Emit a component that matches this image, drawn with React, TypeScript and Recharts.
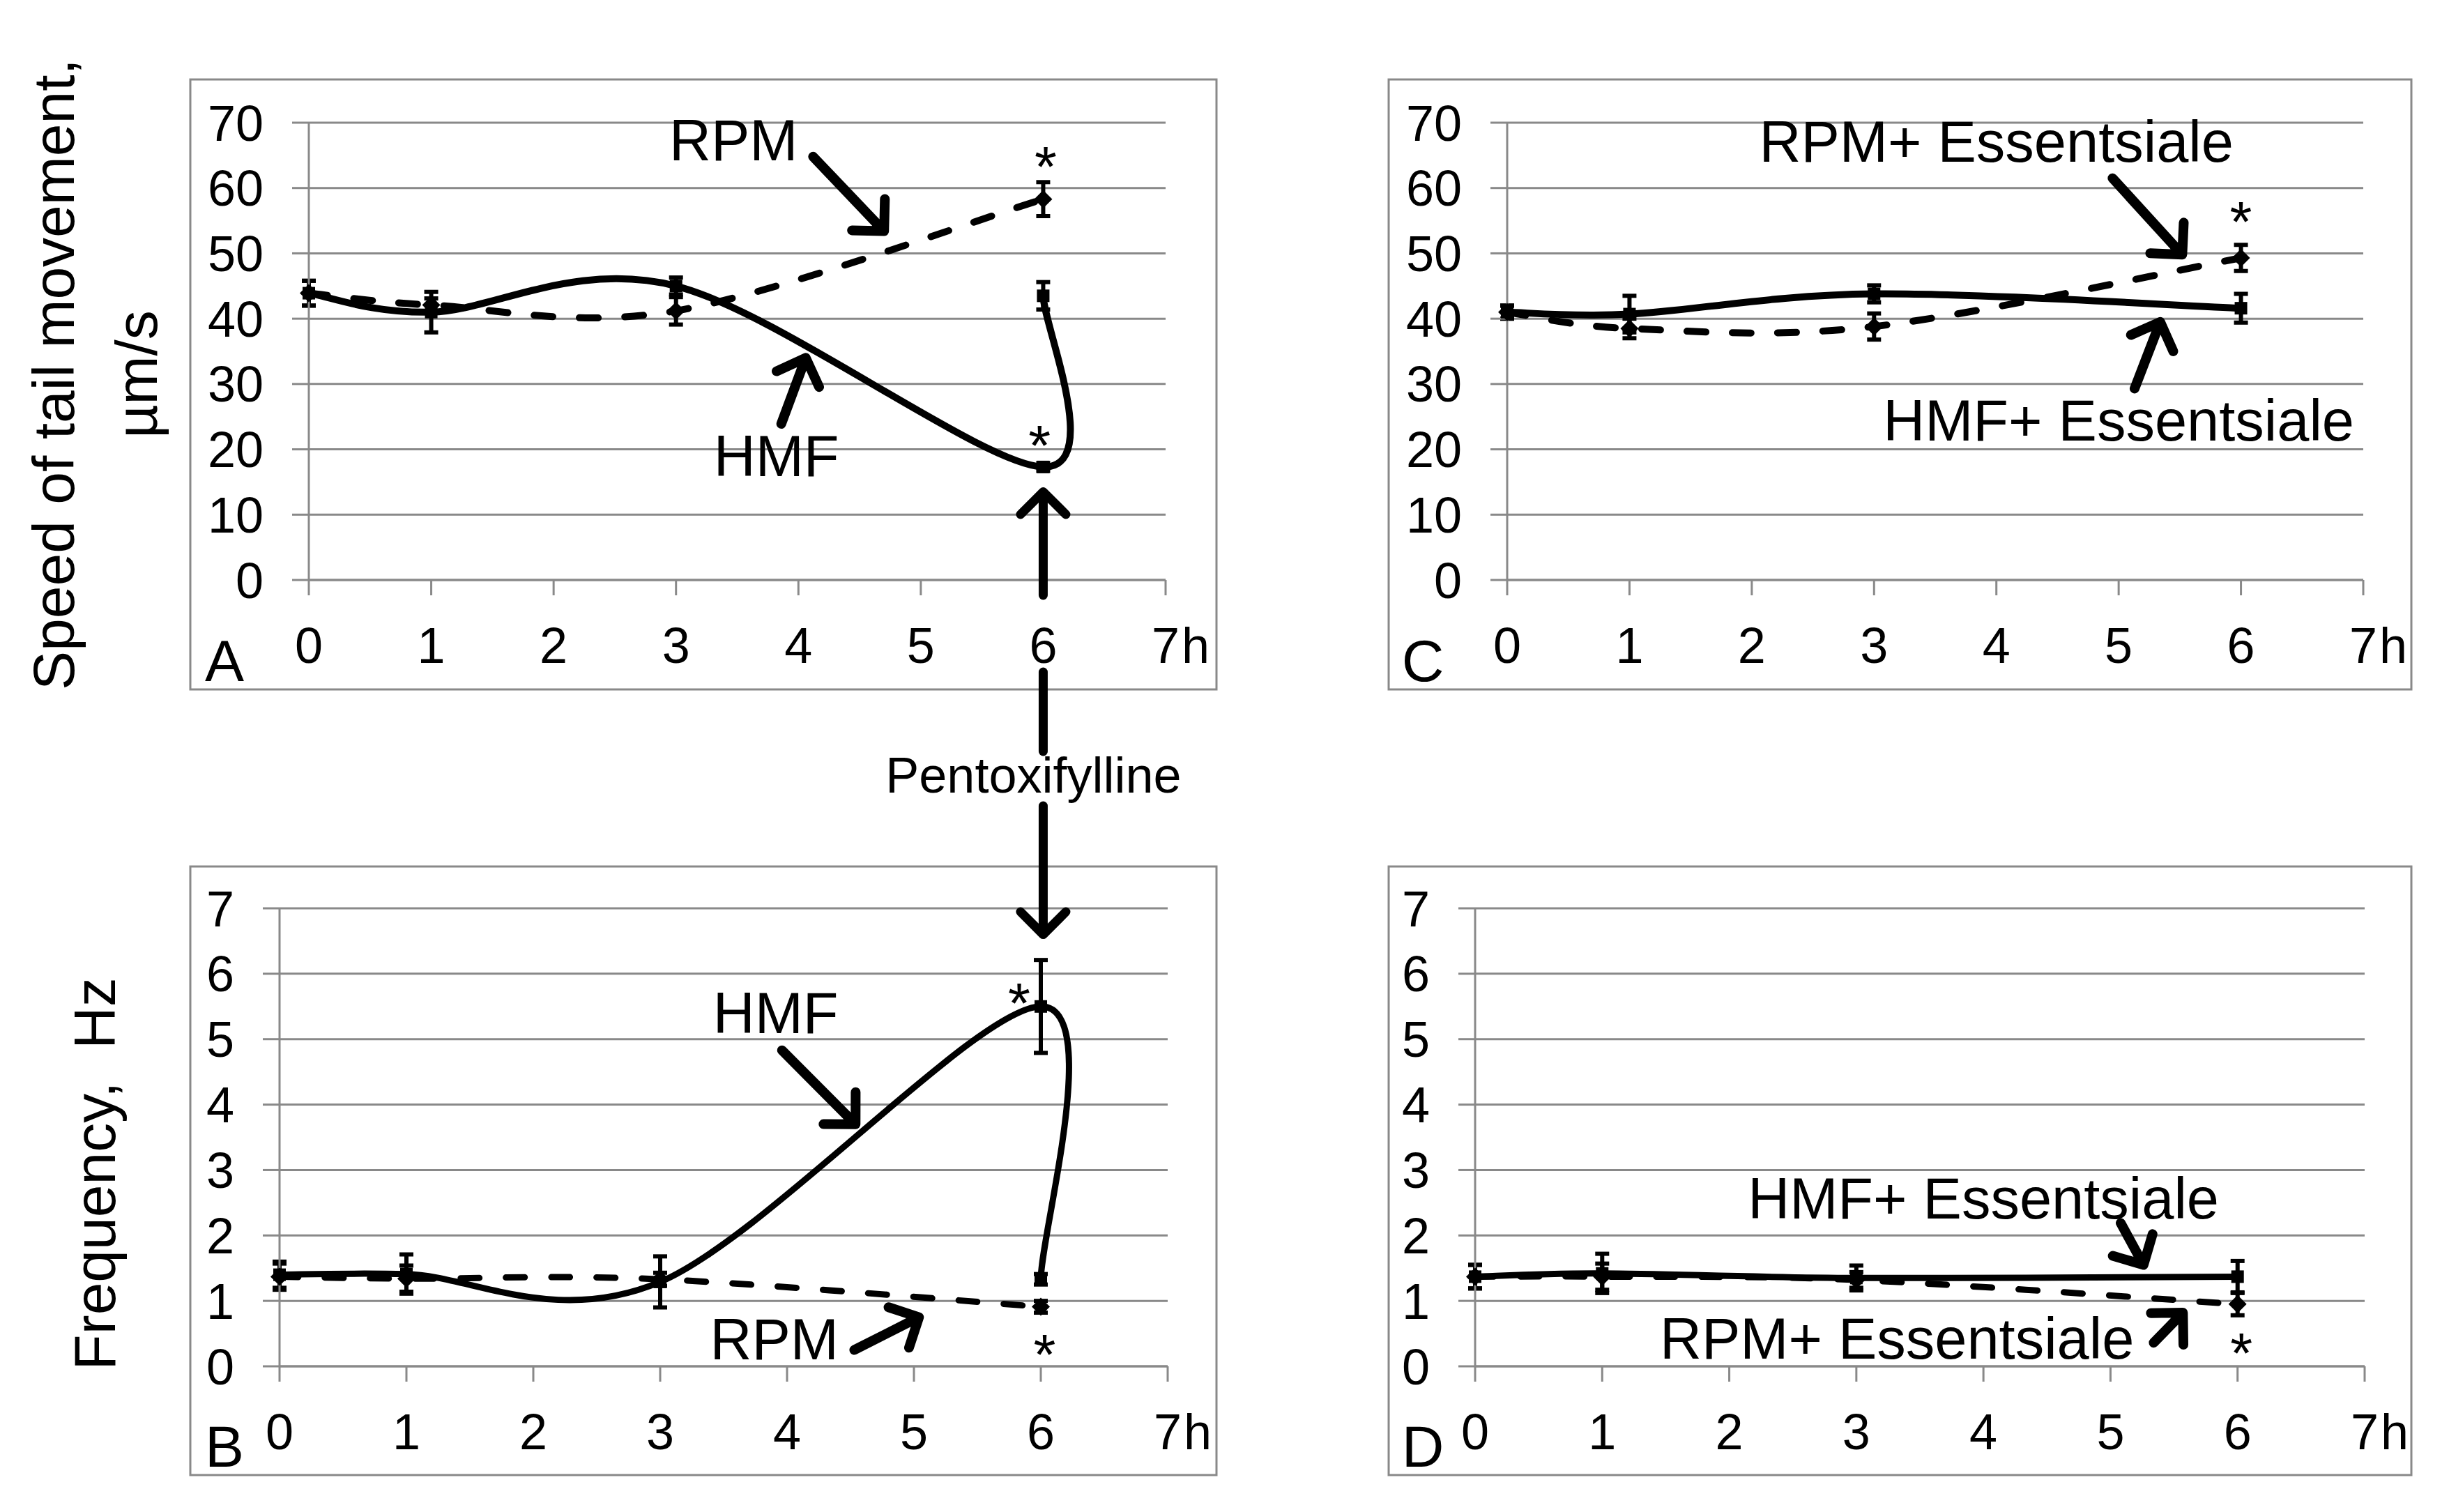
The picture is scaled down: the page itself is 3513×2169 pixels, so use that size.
import React from "react";
import { LineChart, Line, XAxis, YAxis, CartesianGrid, ErrorBar, ReferenceLine, ReferenceDot } from "recharts";

const FONT = '"Liberation Sans", Arial, Helvetica, sans-serif';
const GRID = "#898989";
const INK = "#000";

// measurement times, h
const hours = [0, 1, 3, 6];
const pentoxHour = 6;
const hourTicks = [0, 1, 2, 3, 4, 5, 6, 7];
const speedTicks = [0, 10, 20, 30, 40, 50, 60, 70];
const freqTicks = [0, 1, 2, 3, 4, 5, 6, 7];

// A: speed of tail movement, µm/s
const speedRPM = [43.9, 42.1, 41.2, 58.3];
const speedRPMErr = [1.9, 1.0, 2.1, 2.6];
const speedHMF = [43.9, 41.0, 45.0, 17.3];
const speedHMFErr = [1.9, 3.1, 1.3, 0.6];
const speedHMFPentox = [43.5];
const speedHMFPentoxErr = [2.1];

// C: speed with Essentsiale
const speedRPMEss = [41.0, 38.5, 38.8, 49.3];
const speedRPMEssErr = [1.0, 1.5, 2.0, 2.0];
const speedHMFEss = [41.0, 40.7, 43.8, 41.6];
const speedHMFEssErr = [1.0, 2.8, 1.3, 2.2];

// B: frequency, Hz
const freqRPM = [1.37, 1.34, 1.33, 0.91];
const freqRPMErr = [0.2, 0.2, 0.1, 0.09];
const freqHMF = [1.4, 1.41, 1.29, 5.5];
const freqHMFErr = [0.2, 0.3, 0.39, 0.71];
const freqHMFPentox = [1.33];
const freqHMFPentoxErr = [0.08];

// D: frequency with Essentsiale
const freqRPMEss = [1.37, 1.37, 1.32, 0.95];
const freqRPMEssErr = [0.18, 0.2, 0.12, 0.17];
const freqHMFEss = [1.37, 1.42, 1.35, 1.37];
const freqHMFEssErr = [0.18, 0.3, 0.19, 0.24];

// annotation texts / arrows / asterisks, in data units
const notesA = [
  { text: "RPM", x: 3.47, y: 67.4 },
  { text: "HMF", x: 3.82, y: 19.1 },
];
const arrowsA = [
  { x1: 4.12, y1: 64.8, x2: 4.7, y2: 53.4 },
  { x1: 3.86, y1: 23.9, x2: 4.06, y2: 34.0 },
];
const starsA = [
  { x: 6.02, y: 65.3 },
  { x: 5.97, y: 22.6 },
];

const notesC = [
  { text: "RPM+ Essentsiale", x: 4.0, y: 67.2 },
  { text: "HMF+ Essentsiale", x: 5.0, y: 24.5 },
];
const arrowsC = [
  { x1: 4.95, y1: 61.5, x2: 5.52, y2: 49.8 },
  { x1: 5.13, y1: 29.3, x2: 5.34, y2: 39.5 },
];
const starsC = [{ x: 6.0, y: 56.9 }];

const notesB = [
  { text: "HMF", x: 3.91, y: 5.41 },
  { text: "RPM", x: 3.9, y: 0.42 },
];
const arrowsB = [
  { x1: 3.96, y1: 4.83, x2: 4.54, y2: 3.7 },
  { x1: 4.53, y1: 0.25, x2: 5.04, y2: 0.75 },
];
const starsB = [
  { x: 5.83, y: 5.76 },
  { x: 6.03, y: 0.38 },
];

const notesD = [
  { text: "HMF+ Essentsiale", x: 4.0, y: 2.58 },
  { text: "RPM+ Essentsiale", x: 3.32, y: 0.43 },
];
const arrowsD = [
  { x1: 5.08, y1: 2.19, x2: 5.26, y2: 1.55 },
  { x1: 5.34, y1: 0.36, x2: 5.57, y2: 0.82 },
];
const starsD = [{ x: 6.03, y: 0.41 }];

// where the pentoxifylline arrow tips point (A in µm/s, B in Hz)
const pentoxTipSpeed = 13.5;
const pentoxTipFreq = 6.6;

type Row = { x: number; y: number; e: number };
const toRows = (ys: number[], errs: number[]): Row[] => hours.map((h, i) => ({ x: h, y: ys[i], e: errs[i] }));
const addPentox = (rows: Row[], ys: number[], errs: number[]): Row[] => [
  ...rows,
  ...ys.map((y, i) => ({ x: pentoxHour, y, e: errs[i] })),
];

// Excel-like smoothed line (cubic Bezier through the points, tangents 1/6 of neighbour span)
const excelCurve: any = (context: any) => {
  let pts: number[][] = [];
  return {
    areaStart() {},
    areaEnd() {},
    lineStart() {
      pts = [];
    },
    point(x: number, y: number) {
      pts.push([+x, +y]);
    },
    lineEnd() {
      const n = pts.length;
      if (!n) return;
      context.moveTo(pts[0][0], pts[0][1]);
      for (let i = 0; i < n - 1; i++) {
        const p0 = pts[i > 0 ? i - 1 : 0];
        const p1 = pts[i];
        const p2 = pts[i + 1];
        const p3 = pts[i + 2 < n ? i + 2 : n - 1];
        context.bezierCurveTo(
          p1[0] + (p2[0] - p0[0]) / 6,
          p1[1] + (p2[1] - p0[1]) / 6,
          p2[0] - (p3[0] - p1[0]) / 6,
          p2[1] - (p3[1] - p1[1]) / 6,
          p2[0],
          p2[1]
        );
      }
    },
  };
};

function arrowPath(x1: number, y1: number, x2: number, y2: number, arm = 46) {
  const ang = Math.atan2(y2 - y1, x2 - x1);
  const a1 = ang + Math.PI - Math.PI / 4;
  const a2 = ang + Math.PI + Math.PI / 4;
  return (
    `M${x1},${y1}L${x2},${y2}` +
    `M${x2 + arm * Math.cos(a1)},${y2 + arm * Math.sin(a1)}L${x2},${y2}L${x2 + arm * Math.cos(a2)},${y2 + arm * Math.sin(a2)}`
  );
}

const ArrowShape = (p: any) => (
  <path
    d={arrowPath(+p.x1, +p.y1, +p.x2, +p.y2)}
    fill="none"
    stroke={INK}
    strokeWidth={14}
    strokeLinecap="round"
    strokeLinejoin="round"
  />
);

const textShape = (text: string, size: number, lift: number) => (p: any) => (
  <text x={p.cx} y={p.cy + lift * size} textAnchor="middle" fontSize={size} fontFamily={FONT} fill={INK}>
    {text}
  </text>
);

const DiamondDot = (p: any) => {
  const { cx, cy, index } = p;
  if (cx == null || cy == null) return <g key={`dd-${index}`} />;
  return <path key={`dd-${index}`} d={`M${cx},${cy - 13}L${cx + 13},${cy}L${cx},${cy + 13}L${cx - 13},${cy}Z`} fill={INK} />;
};

const SquareDot = (p: any) => {
  const { cx, cy, index } = p;
  if (cx == null || cy == null) return <g key={`sd-${index}`} />;
  return <rect key={`sd-${index}`} x={cx - 9} y={cy - 9} width={18} height={18} fill={INK} />;
};

const HourTick = (p: any) => {
  const { x, y, payload } = p;
  return (
    <g>
      <text x={x} y={y} dy="0.71em" textAnchor="middle" fontSize={72} fontFamily={FONT} fill={INK}>
        {payload.value}
      </text>
      {payload.value === 7 && (
        <text x={x + 23} y={y} dy="0.71em" textAnchor="start" fontSize={72} fontFamily={FONT} fill={INK}>
          h
        </text>
      )}
    </g>
  );
};

type Box = {
  left: number;
  top: number;
  right: number;
  bottom: number;
  plotLeft: number;
  plotRight: number;
  plotTop: number;
  plotBottom: number;
};

const boxA: Box = { left: 273, top: 114, right: 1745, bottom: 989, plotLeft: 443, plotRight: 1672, plotTop: 176, plotBottom: 832 };
const boxC: Box = { left: 1992, top: 114, right: 3459, bottom: 989, plotLeft: 2162, plotRight: 3390, plotTop: 176, plotBottom: 832 };
const boxB: Box = { left: 273, top: 1243, right: 1745, bottom: 2116, plotLeft: 401, plotRight: 1675, plotTop: 1303, plotBottom: 1960 };
const boxD: Box = { left: 1992, top: 1243, right: 3459, bottom: 2116, plotLeft: 2116, plotRight: 3392, plotTop: 1303, plotBottom: 1960 };

type Series = { name: string; rows: Row[]; dashed: boolean };

function Panel({
  box,
  domain,
  yTicks,
  series,
  notes,
  arrows,
  stars,
  lineWidth,
}: {
  box: Box;
  domain: [number, number];
  yTicks: number[];
  series: Series[];
  notes: { text: string; x: number; y: number }[];
  arrows: { x1: number; y1: number; x2: number; y2: number }[];
  stars: { x: number; y: number }[];
  lineWidth: number;
}) {
  const width = box.right - box.left;
  const height = box.bottom - box.top;
  const axisStyle = { stroke: GRID, strokeWidth: 3 };
  return (
    <div style={{ position: "absolute", left: box.left, top: box.top, width, height }}>
      <LineChart
        width={width}
        height={height}
        margin={{ top: box.plotTop - box.top, right: box.right - box.plotRight, bottom: 0, left: 0 }}
      >
        <CartesianGrid vertical={false} stroke={GRID} strokeWidth={3} />
        <XAxis
          type="number"
          dataKey="x"
          domain={[0, 7]}
          ticks={hourTicks}
          interval={0}
          height={box.bottom - box.plotBottom}
          tickSize={22}
          tickMargin={46}
          axisLine={axisStyle}
          tickLine={axisStyle}
          tick={HourTick}
        />
        <YAxis
          type="number"
          domain={domain}
          ticks={yTicks}
          interval={0}
          width={box.plotLeft - box.left}
          tickSize={24}
          tickMargin={41}
          axisLine={axisStyle}
          tickLine={axisStyle}
          tick={{ fontSize: 72, fill: INK, fontFamily: FONT }}
        />
        {series.map((s) => (
          <Line
            key={s.name}
            name={s.name}
            data={s.rows}
            dataKey="y"
            type={excelCurve}
            stroke={INK}
            strokeWidth={lineWidth}
            strokeDasharray={s.dashed ? "27 38" : undefined}
            strokeLinecap="round"
            dot={s.dashed ? DiamondDot : SquareDot}
            activeDot={false}
            isAnimationActive={false}
          >
            <ErrorBar dataKey="e" direction="y" width={10} strokeWidth={6} stroke={INK} isAnimationActive={false} />
          </Line>
        ))}
        {arrows.map((a, i) => (
          <ReferenceLine
            key={`ar-${i}`}
            segment={[
              { x: a.x1, y: a.y1 },
              { x: a.x2, y: a.y2 },
            ]}
            ifOverflow="visible"
            shape={ArrowShape}
          />
        ))}
        {notes.map((n, i) => (
          <ReferenceDot key={`nt-${i}`} x={n.x} y={n.y} r={0} ifOverflow="visible" shape={textShape(n.text, 83, 0.358)} />
        ))}
        {stars.map((s, i) => (
          <ReferenceDot key={`st-${i}`} x={s.x} y={s.y} r={0} ifOverflow="visible" shape={textShape("*", 82, 0.575)} />
        ))}
      </LineChart>
    </div>
  );
}

export default function App() {
  const seriesA: Series[] = [
    { name: "RPM", rows: toRows(speedRPM, speedRPMErr), dashed: true },
    { name: "HMF", rows: addPentox(toRows(speedHMF, speedHMFErr), speedHMFPentox, speedHMFPentoxErr), dashed: false },
  ];
  const seriesC: Series[] = [
    { name: "RPM+ Essentsiale", rows: toRows(speedRPMEss, speedRPMEssErr), dashed: true },
    { name: "HMF+ Essentsiale", rows: toRows(speedHMFEss, speedHMFEssErr), dashed: false },
  ];
  const seriesB: Series[] = [
    { name: "RPM", rows: toRows(freqRPM, freqRPMErr), dashed: true },
    { name: "HMF", rows: addPentox(toRows(freqHMF, freqHMFErr), freqHMFPentox, freqHMFPentoxErr), dashed: false },
  ];
  const seriesD: Series[] = [
    { name: "RPM+ Essentsiale", rows: toRows(freqRPMEss, freqRPMEssErr), dashed: true },
    { name: "HMF+ Essentsiale", rows: toRows(freqHMFEss, freqHMFEssErr), dashed: false },
  ];

  // pentoxifylline arrow, placed on the 6 h tick of panels A and B
  const px = boxA.plotLeft + ((boxA.plotRight - boxA.plotLeft) * pentoxHour) / 7;
  const tipA = boxA.plotBottom - ((boxA.plotBottom - boxA.plotTop) * pentoxTipSpeed) / 70;
  const tipB = boxB.plotBottom - ((boxB.plotBottom - boxB.plotTop) * pentoxTipFreq) / 7;
  const arrowStyle = {
    fill: "none",
    stroke: INK,
    strokeWidth: 13,
    strokeLinecap: "round" as const,
    strokeLinejoin: "round" as const,
  };
  const frames = [boxA, boxB, boxC, boxD];
  const letters = ["A", "B", "C", "D"];

  return (
    <div
      style={{
        position: "absolute",
        left: 0,
        top: 0,
        width: 3513,
        height: 2169,
        background: "#fff",
        fontFamily: FONT,
      }}
    >
      <Panel box={boxA} domain={[0, 70]} yTicks={speedTicks} series={seriesA} notes={notesA} arrows={arrowsA} stars={starsA} lineWidth={10} />
      <Panel box={boxC} domain={[0, 70]} yTicks={speedTicks} series={seriesC} notes={notesC} arrows={arrowsC} stars={starsC} lineWidth={10} />
      <Panel box={boxB} domain={[0, 7]} yTicks={freqTicks} series={seriesB} notes={notesB} arrows={arrowsB} stars={starsB} lineWidth={9} />
      <Panel box={boxD} domain={[0, 7]} yTicks={freqTicks} series={seriesD} notes={notesD} arrows={arrowsD} stars={starsD} lineWidth={9} />
      <svg width={3513} height={2169} style={{ position: "absolute", left: 0, top: 0, pointerEvents: "none" }}>
        {frames.map((b, i) => (
          <g key={`fr-${i}`}>
            <rect x={b.left} y={b.top} width={b.right - b.left} height={b.bottom - b.top} fill="none" stroke={GRID} strokeWidth={3} />
            <text x={b.left + 49} y={b.bottom - 12} textAnchor="middle" fontSize={84} fontFamily={FONT} fill={INK}>
              {letters[i]}
            </text>
          </g>
        ))}
        <text transform="translate(106,537) rotate(-90)" textAnchor="middle" fontSize={84} fontFamily={FONT} fill={INK}>
          Speed of tail movement,
        </text>
        <text transform="translate(225,537) rotate(-90)" textAnchor="middle" fontSize={84} fontFamily={FONT} fill={INK}>
          µm/s
        </text>
        <text
          transform="translate(165,1684) rotate(-90)"
          textAnchor="middle"
          fontSize={84}
          fontFamily={FONT}
          fill={INK}
          xmlSpace="preserve"
        >
          {"Frequency,  Hz"}
        </text>
        <path d={arrowPath(px, boxA.plotBottom + 22, px, tipA)} {...arrowStyle} />
        <path d={`M${px},${boxA.plotBottom + 132}L${px},1078`} {...arrowStyle} />
        <text x={px - 14} y={1137} textAnchor="middle" fontSize={72} fontFamily={FONT} fill={INK}>
          Pentoxifylline
        </text>
        <path d={arrowPath(px, 1156, px, tipB)} {...arrowStyle} />
      </svg>
    </div>
  );
}
